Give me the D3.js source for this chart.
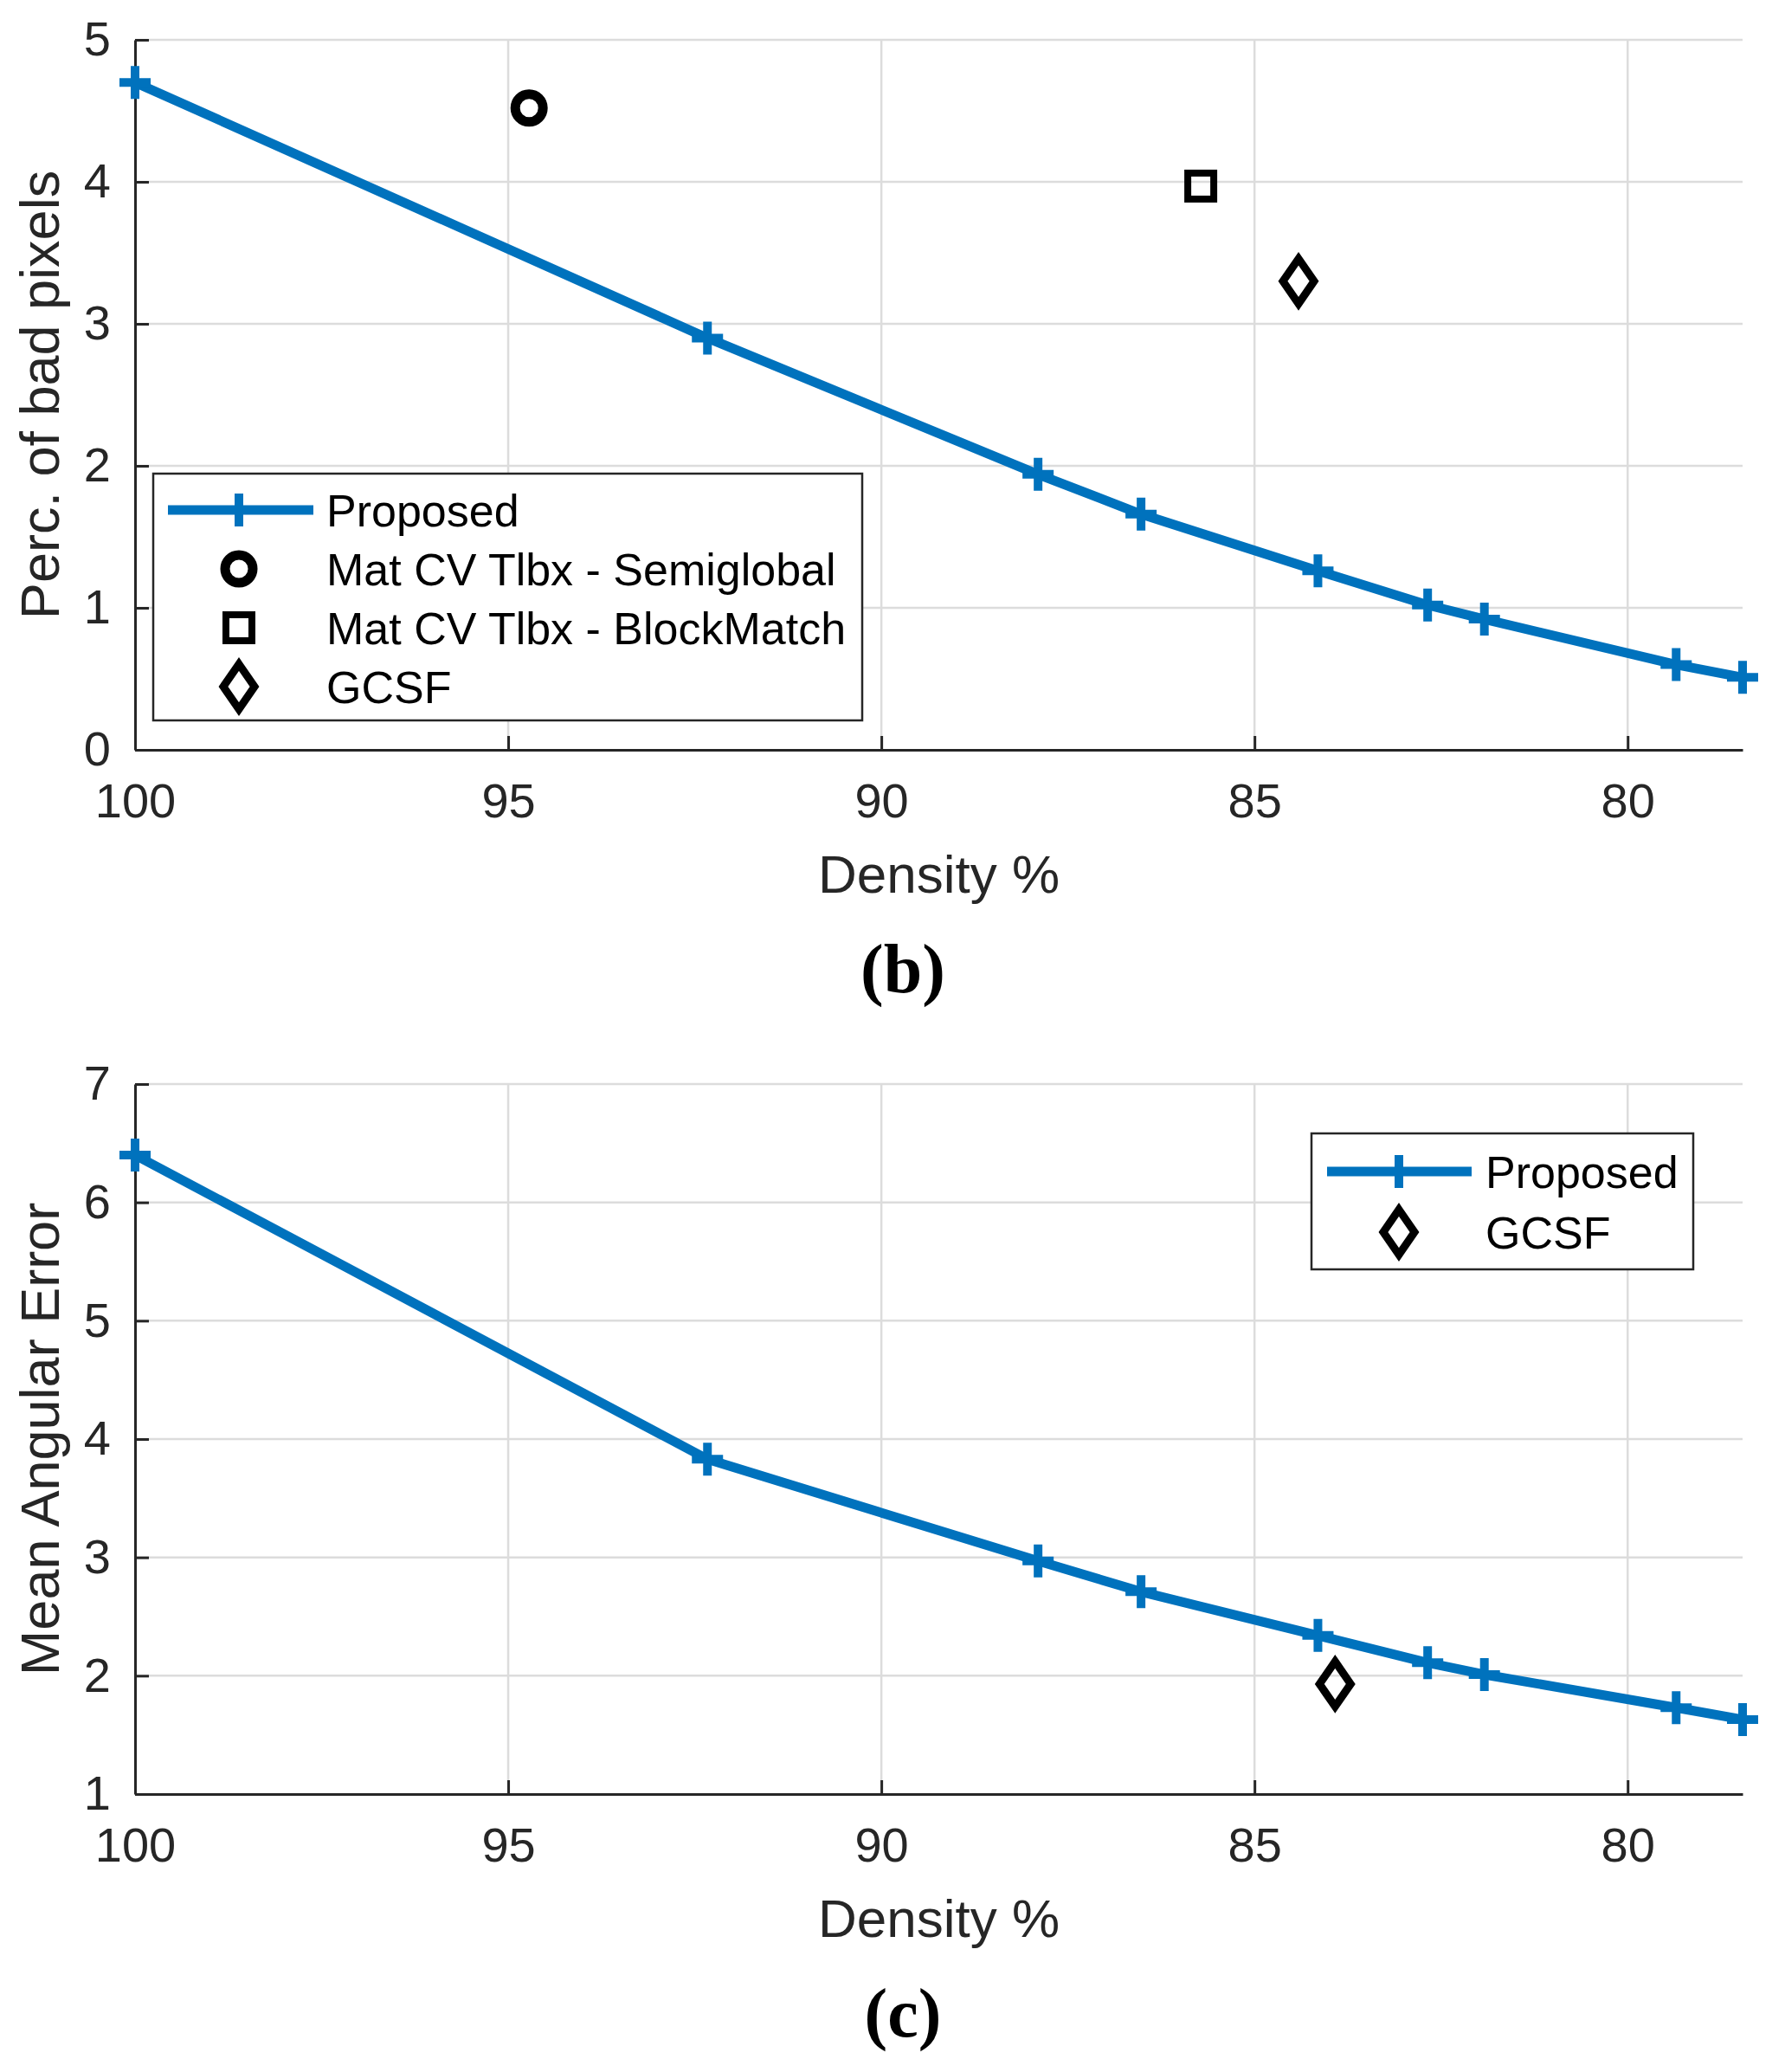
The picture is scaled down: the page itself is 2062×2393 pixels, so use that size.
<!DOCTYPE html>
<html>
<head>
<meta charset="utf-8">
<script src="https://cdn.jsdelivr.net/npm/d3@7"></script>
<style>
  body { margin: 0; background: #fff; }
</style>
</head>
<body>
<div id="chart"></div>
<script>
// density values shared by both panels (x axis, reversed)
const density = [100, 92.33, 87.9, 86.52, 84.15, 82.68, 81.92, 79.35, 78.46];

// panel (b): percentage of bad pixels
const badPixelsProposed = [4.70, 2.90, 1.94, 1.66, 1.26, 1.02, 0.92, 0.60, 0.51];
const badPixelsOthers = [
  {name: 'Mat CV Tlbx - Semiglobal', marker: 'circle', x: 94.72, y: 4.52},
  {name: 'Mat CV Tlbx - BlockMatch', marker: 'square', x: 85.72, y: 3.97},
  {name: 'GCSF', marker: 'diamond', x: 84.41, y: 3.30}
];

// panel (c): mean angular error
const angularProposed = [6.40, 3.83, 2.97, 2.71, 2.34, 2.11, 2.01, 1.73, 1.63];
const angularOthers = [
  {name: 'GCSF', marker: 'diamond', x: 83.92, y: 1.93}
];

const xTicks = [100, 95, 90, 85, 80];
const yTicksB = [0, 1, 2, 3, 4, 5];
const yTicksC = [1, 2, 3, 4, 5, 6, 7];

const W = 2062, H = 2393;
const blue = '#0072BD';
const ink = '#262626';
const sans = '"Liberation Sans", Arial, sans-serif';
const serif = '"Liberation Serif", "DejaVu Serif", serif';

const svg = d3.select('#chart').append('svg')
    .attr('width', W)
    .attr('height', H)
    .style('font-family', sans);

// matlab-like markers, drawn at pixel position (x, y)
function drawMarker(g, type, x, y) {
    if (type === 'circle') {
        g.append('circle').attr('cx', x).attr('cy', y).attr('r', 16)
            .attr('fill', 'none').attr('stroke', '#000').attr('stroke-width', 11);
    } else if (type === 'square') {
        g.append('rect').attr('x', x - 15).attr('y', y - 15).attr('width', 30).attr('height', 30)
            .attr('fill', 'none').attr('stroke', '#000').attr('stroke-width', 8);
    } else if (type === 'diamond') {
        g.append('path').attr('d', `M${x},${y - 26}L${x + 18},${y}L${x},${y + 26}L${x - 18},${y}Z`)
            .attr('fill', 'none').attr('stroke', '#000').attr('stroke-width', 9)
            .attr('stroke-linejoin', 'miter');
    } else if (type === 'plus') {
        g.append('path').attr('d', `M${x - 18},${y}H${x + 18}M${x},${y - 19}V${y + 19}`)
            .attr('fill', 'none').attr('stroke', blue).attr('stroke-width', 10);
    }
}

function panel(opt) {
    const {top, bottom, left, right} = opt;
    const x = d3.scaleLinear().domain([100, 78.46]).range([left, right]);
    const y = d3.scaleLinear().domain(opt.yDomain).range([bottom, top]);

    const g = svg.append('g');

    // grid
    g.append('g').selectAll('line')
        .data(xTicks.filter(d => d !== 100))
        .enter().append('line')
        .attr('x1', d => x(d)).attr('x2', d => x(d))
        .attr('y1', top).attr('y2', bottom)
        .attr('stroke', '#dcdcdc').attr('stroke-width', 2.5);
    g.append('g').selectAll('line')
        .data(opt.yTicks.filter(d => d !== opt.yDomain[0]))
        .enter().append('line')
        .attr('x1', left).attr('x2', right)
        .attr('y1', d => y(d)).attr('y2', d => y(d))
        .attr('stroke', '#dcdcdc').attr('stroke-width', 2.5);

    // axes
    const xAxis = g.append('g')
        .attr('transform', `translate(0,${bottom})`)
        .call(d3.axisBottom(x).tickValues(xTicks).tickFormat(d3.format('d'))
            .tickSizeInner(-16).tickSizeOuter(0).tickPadding(38));
    const yAxis = g.append('g')
        .attr('transform', `translate(${left},0)`)
        .call(d3.axisLeft(y).tickValues(opt.yTicks).tickFormat(d3.format('d'))
            .tickSizeInner(-16).tickSizeOuter(0).tickPadding(28));
    [xAxis, yAxis].forEach(a => {
        a.attr('font-family', sans).attr('font-size', 56);
        a.select('.domain').attr('stroke', ink).attr('stroke-width', 3);
        a.selectAll('.tick line').attr('stroke', ink).attr('stroke-width', 3);
        a.selectAll('.tick text').attr('fill', ink);
    });
    xAxis.selectAll('.tick text').attr('dy', '0.71em');

    // axis labels
    g.append('text')
        .attr('x', (left + right) / 2).attr('y', bottom + 165)
        .attr('text-anchor', 'middle').attr('fill', ink).attr('font-size', 62)
        .text('Density %');
    g.append('text')
        .attr('transform', `translate(${left - 88},${(top + bottom) / 2}) rotate(-90)`)
        .attr('text-anchor', 'middle').attr('fill', ink).attr('font-size', 63)
        .text(opt.yLabel);

    // panel tag
    g.append('text')
        .attr('x', 1043).attr('y', bottom + 280)
        .attr('text-anchor', 'middle').attr('fill', '#000')
        .attr('font-size', 80).attr('font-weight', 'bold')
        .style('font-family', serif)
        .text(opt.tag);

    // proposed line
    const line = d3.line().x(d => x(d[0])).y(d => y(d[1]));
    const pts = density.map((d, i) => [d, opt.proposed[i]]);
    g.append('path').datum(pts)
        .attr('d', line)
        .attr('fill', 'none').attr('stroke', blue).attr('stroke-width', 11)
        .attr('stroke-linejoin', 'round');
    pts.forEach(p => drawMarker(g, 'plus', x(p[0]), y(p[1])));

    // other methods
    opt.others.forEach(o => drawMarker(g, o.marker, x(o.x), y(o.y)));

    // legend
    const L = opt.legend;
    const lg = g.append('g');
    lg.append('rect')
        .attr('x', L.x).attr('y', L.y).attr('width', L.w).attr('height', L.h)
        .attr('fill', '#fff').attr('stroke', ink).attr('stroke-width', 2.5);
    const entries = [{name: 'Proposed', marker: 'line'}].concat(opt.others);
    entries.forEach((e, i) => {
        const cy = L.y + L.row0 + i * L.step;
        const mx = L.x + L.markX;
        if (e.marker === 'line') {
            lg.append('line').attr('x1', L.x + L.lineX0).attr('x2', L.x + L.lineX1)
                .attr('y1', cy).attr('y2', cy)
                .attr('stroke', blue).attr('stroke-width', 11);
            drawMarker(lg, 'plus', mx, cy);
        } else {
            drawMarker(lg, e.marker, mx, cy);
        }
        lg.append('text')
            .attr('x', L.x + L.textX).attr('y', cy).attr('dy', '0.36em')
            .attr('fill', '#000').attr('font-size', 52)
            .text(e.name);
    });
}

panel({
    top: 46, bottom: 866, left: 156, right: 2013,
    yDomain: [0, 5], yTicks: yTicksB,
    yLabel: 'Perc. of bad pixels', tag: '(b)',
    proposed: badPixelsProposed, others: badPixelsOthers,
    legend: {x: 177, y: 547, w: 819, h: 285, row0: 42, step: 68,
             lineX0: 17, lineX1: 185, markX: 99, textX: 200}
});

panel({
    top: 1252, bottom: 2072, left: 156, right: 2013,
    yDomain: [1, 7], yTicks: yTicksC,
    yLabel: 'Mean Angular Error', tag: '(c)',
    proposed: angularProposed, others: angularOthers,
    legend: {x: 1515, y: 1309, w: 441, h: 157, row0: 44, step: 70,
             lineX0: 18, lineX1: 185, markX: 101, textX: 201}
});
</script>
</body>
</html>
